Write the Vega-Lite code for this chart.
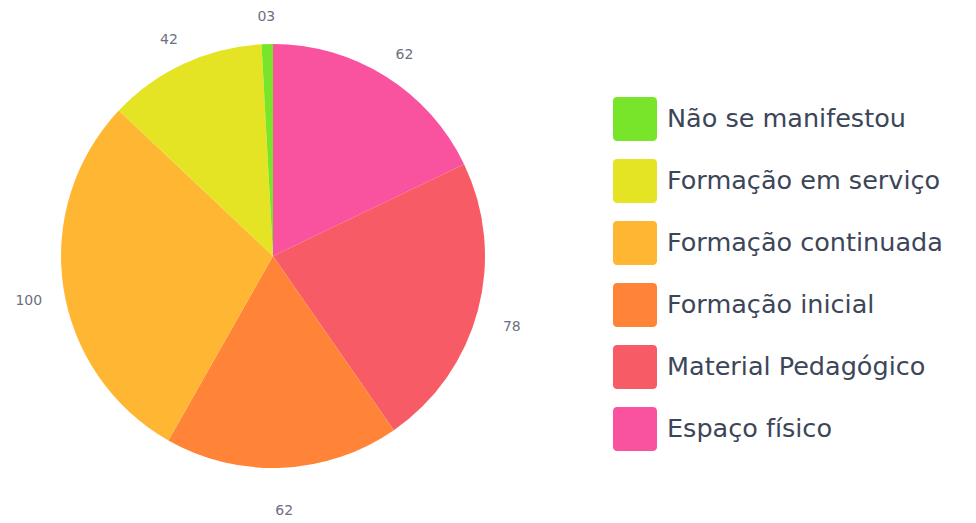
{
  "$schema": "https://vega.github.io/schema/vega-lite/v6.json",
  "autosize": "none",
  "width": 546,
  "height": 512,
  "padding": {"left": 0, "top": 0, "right": 430, "bottom": 11},
  "background": "white",
  "data": {
    "values": [
      {"categoria": "Espaço físico", "valor": 62, "rotulo": "62", "ordem": 1},
      {"categoria": "Material Pedagógico", "valor": 78, "rotulo": "78", "ordem": 2},
      {"categoria": "Formação inicial", "valor": 62, "rotulo": "62", "ordem": 3},
      {"categoria": "Formação continuada", "valor": 100, "rotulo": "100", "ordem": 4},
      {"categoria": "Formação em serviço", "valor": 42, "rotulo": "42", "ordem": 5},
      {"categoria": "Não se manifestou", "valor": 3, "rotulo": "03", "ordem": 6}
    ]
  },
  "encoding": {
    "theta": {"field": "valor", "type": "quantitative", "stack": true},
    "order": {"field": "ordem", "type": "quantitative"},
    "color": {
      "field": "categoria",
      "type": "nominal",
      "scale": {
        "domain": ["Não se manifestou", "Formação em serviço", "Formação continuada", "Formação inicial", "Material Pedagógico", "Espaço físico"],
        "range": ["#79e52a", "#e4e424", "#ffb733", "#ff8438", "#f75b65", "#f953a0"]
      },
      "legend": {
        "title": null,
        "orient": "none",
        "legendX": 613,
        "legendY": 97,
        "padding": 0,
        "symbolType": "M -0.8,-1 L 0.8,-1 Q 1,-1 1,-0.8 L 1,0.8 Q 1,1 0.8,1 L -0.8,1 Q -1,1 -1,0.8 L -1,-0.8 Q -1,-1 -0.8,-1 Z",
        "symbolSize": 1936,
        "symbolStrokeWidth": 0,
        "symbolOpacity": 1,
        "rowPadding": 18,
        "labelOffset": 10,
        "labelFont": "DejaVu Sans",
        "labelFontSize": 25.5,
        "labelColor": "#3d4658",
        "labelLimit": 400
      }
    }
  },
  "layer": [
    {"mark": {"type": "arc", "outerRadius": 212}},
    {
      "mark": {"type": "text", "radius": 247, "dy": 8, "font": "DejaVu Sans", "fontSize": 14, "fill": "#6b7080"},
      "encoding": {"text": {"field": "rotulo"}, "color": {"value": "#6b7080"}}
    }
  ]
}
